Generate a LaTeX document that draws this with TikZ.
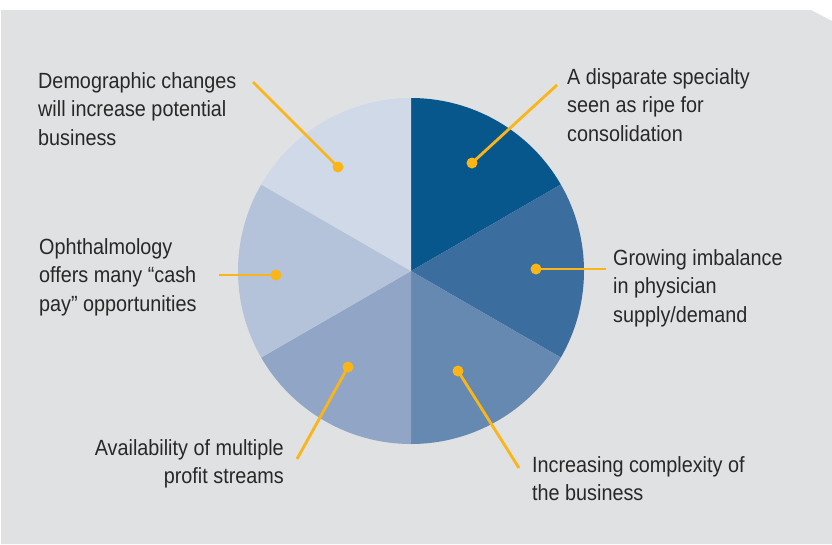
\documentclass[tikz,border=0pt]{standalone}
\usepackage{fontspec}
\setmainfont{Liberation Sans}[FakeStretch=0.9]
\definecolor{panel}{HTML}{E0E1E3}
\definecolor{txt}{HTML}{282828}
\definecolor{gold}{HTML}{FBB517}
\definecolor{sa}{HTML}{07578C}
\definecolor{sb}{HTML}{3B6E9E}
\definecolor{sc}{HTML}{6689B1}
\definecolor{sd}{HTML}{91A6C6}
\definecolor{se}{HTML}{B5C3DA}
\definecolor{sf}{HTML}{CFD9E7}
\begin{document}
\begin{tikzpicture}[x=1pt,y=-1pt,
  lbl/.style={font=\fontsize{22}{28.8}\selectfont, text=txt, inner sep=0pt, align=left, anchor=north west},
  lead/.style={draw=gold, line width=2.8pt},
  dotst/.style={circle, fill=gold, inner sep=0pt, minimum size=11pt}]
\useasboundingbox (0,0) rectangle (832,544);
\fill[panel] (1,10) -- (811,10) -- (832,21) -- (832,544) -- (1,544) -- cycle;
\coordinate (c) at (411,271);
\def\R{173}
\fill[sa] (c) -- ++(-30:\R) arc (-30:-90:\R) -- cycle;
\fill[sb] (c) -- ++(30:\R) arc (30:-30:\R) -- cycle;
\fill[sc] (c) -- ++(90:\R) arc (90:30:\R) -- cycle;
\fill[sd] (c) -- ++(150:\R) arc (150:90:\R) -- cycle;
\fill[se] (c) -- ++(-150:\R) arc (-150:-210:\R) -- cycle;
\fill[sf] (c) -- ++(-90:\R) arc (-90:-150:\R) -- cycle;
% labels
\node[lbl] (t1) at (567,68) {A disparate specialty\\seen as ripe for\\consolidation};
\node[lbl] (t2) at (613,249) {Growing imbalance\\in physician\\supply/demand};
\node[lbl] (t3) at (532,456) {Increasing complexity of\\the business};
\node[lbl, align=right, anchor=north east] (t4) at (284,439) {Availability of multiple\\profit streams};
\node[lbl] (t5) at (39,238) {Ophthalmology\\offers many “cash\\pay” opportunities};
\node[lbl] (t6) at (38,72) {Demographic changes\\will increase potential\\business};
% leader points
\coordinate (p1) at (472,163); \coordinate (e1) at (557,85);
\coordinate (p2) at (536,269); \coordinate (e2) at (606,269);
\coordinate (p3) at (458,371); \coordinate (e3) at (519,468);
\coordinate (p4) at (348,367); \coordinate (e4) at (297,459);
\coordinate (p5) at (276,275); \coordinate (e5) at (219,275);
\coordinate (p6) at (338,167); \coordinate (e6) at (253,82);
\foreach \i in {1,...,6}{\draw[lead] (p\i) -- (e\i);}
\foreach \i in {1,...,6}{\node[dotst] (dot\i) at (p\i) {};}
\end{tikzpicture}
\end{document}
